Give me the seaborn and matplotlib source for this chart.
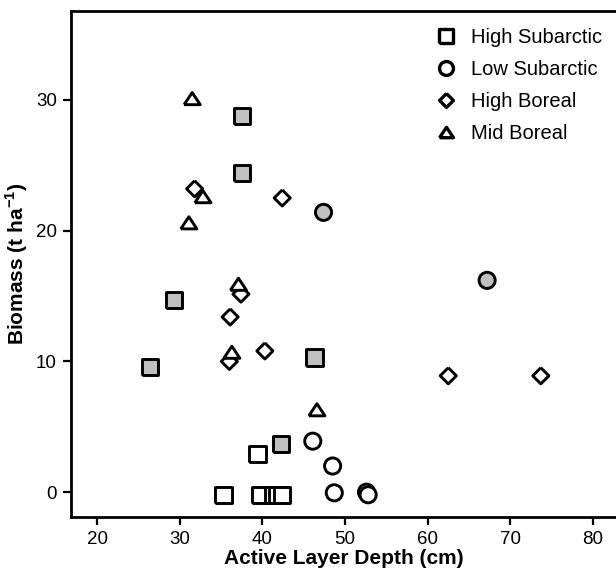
import numpy as np
import pandas as pd
import seaborn as sns
import matplotlib.pyplot as plt
from matplotlib.lines import Line2D

# data
hs_x = [37.5, 37.5, 29.3, 26.4, 46.3, 42.3, 39.4, 35.3, 39.7, 41.3, 41.8, 42.4]
hs_y = [28.8, 24.4, 14.7, 9.6, 10.3, 3.7, 2.9, -0.2, -0.2, -0.2, -0.2, -0.2]
hs_fill = [True, True, True, True, True, True, False, False, False, False, False, False]

ls_x = [47.4, 67.2, 46.1, 48.5, 48.7, 52.6, 52.8]
ls_y = [21.4, 16.2, 3.9, 2.0, -0.05, 0.0, -0.2]
ls_fill = [True, True, False, False, False, False, False]

hb_x = [31.8, 42.4, 37.4, 36.1, 40.3, 36.0, 62.5, 73.7]
hb_y = [23.2, 22.5, 15.15, 13.4, 10.8, 10.0, 8.9, 8.9]
hb_fill = [False] * 8

mb_x = [31.5, 32.8, 31.1, 37.1, 36.3, 46.6]
mb_y = [30.1, 22.6, 20.6, 15.9, 10.7, 6.3]
mb_fill = [False] * 6

regions = ['High Subarctic', 'Low Subarctic', 'High Boreal', 'Mid Boreal']
x_ticks = [20, 30, 40, 50, 60, 70, 80]
y_ticks = [0, 10, 20, 30]

frames = []
for name, xs, ys, fs in zip(regions,
                            [hs_x, ls_x, hb_x, mb_x],
                            [hs_y, ls_y, hb_y, mb_y],
                            [hs_fill, ls_fill, hb_fill, mb_fill]):
    frames.append(pd.DataFrame({'Depth': xs, 'Biomass': ys,
                                'Region': name, 'Filled': fs}))
df = pd.concat(frames, ignore_index=True)

# marker shapes (closed paths, normalised by their largest extent)
square = [(-1, -1), (1, -1), (1, 1), (-1, 1), (-1, -1)]
diamond = [(0, 1), (1, 0), (0, -1), (-1, 0), (0, 1)]
triangle = [(-1, -0.75), (1, -0.75), (0, 0.75), (-1, -0.75)]
marker_map = {'High Subarctic': square, 'Low Subarctic': 'o',
              'High Boreal': diamond, 'Mid Boreal': triangle}

sns.set_style('ticks')
plt.rcParams['font.family'] = ['Liberation Sans', 'DejaVu Sans']
plt.rcParams['mathtext.fontset'] = 'custom'
plt.rcParams['mathtext.bf'] = 'Liberation Sans:bold'
plt.rcParams['mathtext.rm'] = 'Liberation Sans'
plt.rcParams['text.color'] = 'black'
plt.rcParams['axes.labelcolor'] = 'black'
plt.rcParams['xtick.color'] = 'black'
plt.rcParams['ytick.color'] = 'black'

fig = plt.figure(figsize=(6.16, 5.74), dpi=100)
ax = fig.add_axes([0.1148, 0.0993, 1 - 0.1148, 0.9808 - 0.0993])

sns.scatterplot(data=df, x='Depth', y='Biomass', style='Region', hue='Filled',
                palette={True: '#c0c0c0', False: 'white'},
                markers=marker_map, style_order=regions,
                s=135, edgecolor='black', linewidth=2.1,
                legend=False, ax=ax, zorder=3)

ax.set_xlim(16.8, 82.8)
ax.set_ylim(-1.9, 36.8)
ax.set_xticks(x_ticks)
ax.set_yticks(y_ticks)
ax.tick_params(direction='out', length=6, width=1.6, labelsize=13.5,
               color='black', labelcolor='black', pad=4)
for side in ['left', 'top', 'bottom']:
    ax.spines[side].set_linewidth(2)
    ax.spines[side].set_color('black')
ax.spines['right'].set_visible(False)

ax.set_xlabel('Active Layer Depth (cm)', fontsize=15, fontweight='bold', labelpad=1)
ax.set_ylabel(r'Biomass (t ha$^{\mathbf{-1}}$)', fontsize=15, fontweight='bold', labelpad=4)

# legend shows only the marker shapes, all open
handles = [Line2D([], [], linestyle='none', marker=marker_map[r],
                  markersize=10, markerfacecolor='white',
                  markeredgecolor='black', markeredgewidth=2.4)
           for r in regions]
ax.legend(handles, regions, loc='upper left', bbox_to_anchor=(0.707, 0.951),
          bbox_transform=fig.transFigure, frameon=False, borderpad=0,
          borderaxespad=0, handlelength=1, handletextpad=0.77,
          labelspacing=0.64, fontsize=14.5)

plt.savefig('out.png', dpi=100)
